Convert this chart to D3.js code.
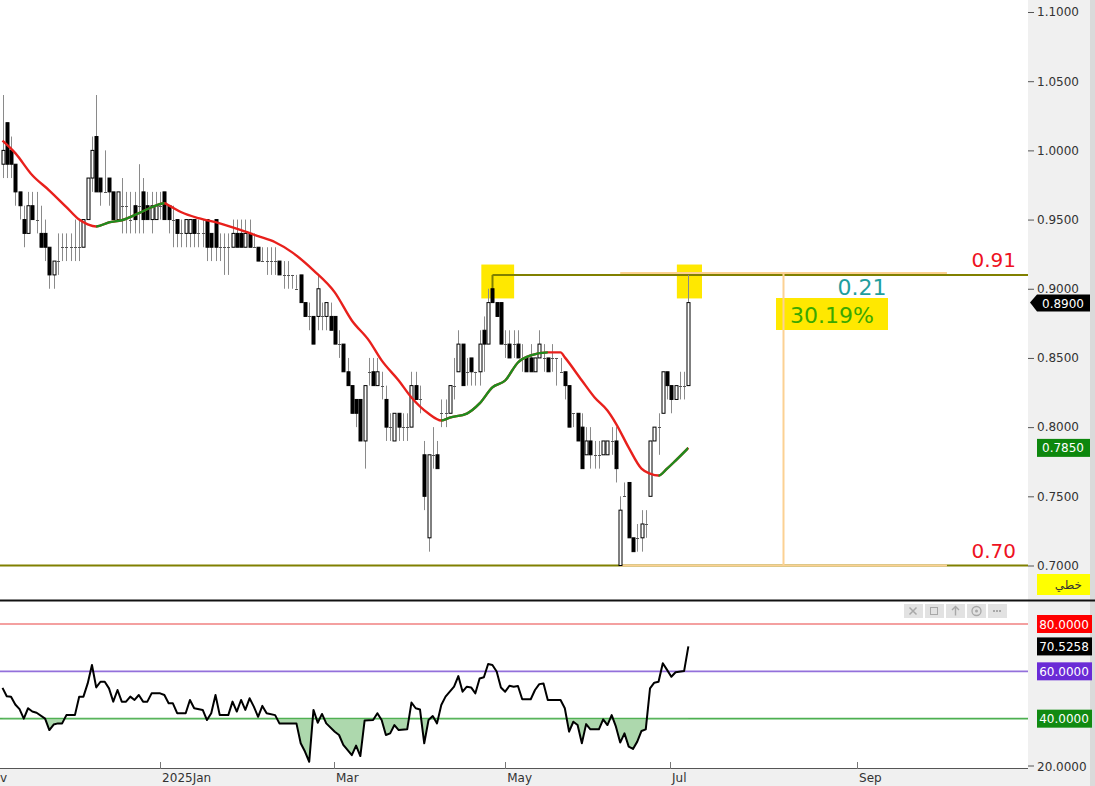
<!DOCTYPE html>
<html>
<head>
<meta charset="utf-8">
<script src="https://cdnjs.cloudflare.com/ajax/libs/d3/7.8.5/d3.min.js"></script>
<style>
  body { margin: 0; background: #fff; overflow: hidden; }
  svg { display: block; font-family: "DejaVu Sans", sans-serif; }
</style>
</head>
<body>
<div class="chart"></div>
<script>
// daily bars
const opens = [
  0.99,1.02,1.00,0.99,0.97,0.95,0.94,0.96,0.95,0.94,
  0.94,0.93,0.91,0.92,0.93,0.93,0.93,0.93,0.93,0.93,
  0.95,0.98,1.01,0.98,0.97,0.98,0.97,0.95,0.96,0.96,
  0.95,0.96,0.96,0.97,0.96,0.95,0.95,0.96,0.97,0.96,
  0.95,0.95,0.94,0.94,0.94,0.95,0.94,0.94,0.95,0.94,
  0.95,0.93,0.93,0.93,0.93,0.94,0.94,0.93,0.94,0.93,
  0.93,0.92,0.92,0.92,0.92,0.92,0.91,0.91,0.91,0.90,
  0.91,0.89,0.88,0.88,0.88,0.88,0.88,0.88,0.88,0.86,
  0.86,0.84,0.83,0.82,0.82,0.79,0.84,0.84,0.83,0.83,
  0.82,0.80,0.79,0.81,0.80,0.80,0.80,0.83,0.82,0.78,
  0.72,0.78,0.78,0.81,0.81,0.81,0.83,0.84,0.86,0.84,
  0.85,0.84,0.84,0.87,0.86,0.90,0.89,0.89,0.86,0.86,
  0.86,0.86,0.85,0.85,0.85,0.84,0.85,0.85,0.85,0.85,
  0.85,0.84,0.84,0.83,0.81,0.81,0.80,0.78,0.79,0.78,
  0.78,0.78,0.78,0.79,0.79,0.70,0.75,0.76,0.72,0.72,
  0.72,0.73,0.75,0.79,0.80,0.81,0.84,0.83,0.82,0.83,
  0.83,0.83
];
const highs = [
  1.04,1.02,1.01,0.99,0.97,0.96,0.97,0.97,0.97,0.96,
  0.95,0.93,0.92,0.94,0.94,0.94,0.94,0.95,0.95,0.95,
  0.98,1.01,1.04,0.98,1.00,0.98,0.97,0.97,0.98,0.97,
  0.97,0.97,0.99,0.98,0.97,0.97,0.97,0.97,0.97,0.96,
  0.96,0.95,0.95,0.95,0.95,0.95,0.95,0.95,0.95,0.94,
  0.95,0.94,0.94,0.94,0.95,0.95,0.95,0.95,0.95,0.94,
  0.93,0.93,0.93,0.93,0.93,0.92,0.92,0.92,0.91,0.91,
  0.91,0.89,0.89,0.88,0.91,0.89,0.89,0.89,0.88,0.87,
  0.86,0.85,0.83,0.82,0.82,0.83,0.85,0.85,0.85,0.84,
  0.83,0.81,0.81,0.81,0.81,0.81,0.84,0.84,0.83,0.79,
  0.78,0.80,0.79,0.82,0.82,0.83,0.85,0.87,0.86,0.85,
  0.85,0.84,0.87,0.88,0.90,0.90,0.89,0.89,0.87,0.87,
  0.87,0.87,0.86,0.85,0.86,0.85,0.87,0.86,0.85,0.86,
  0.85,0.85,0.84,0.83,0.81,0.81,0.81,0.80,0.80,0.79,
  0.79,0.79,0.79,0.80,0.80,0.75,0.76,0.76,0.72,0.73,
  0.74,0.74,0.79,0.80,0.81,0.84,0.84,0.83,0.83,0.84,
  0.84,0.91
];
const lows = [
  0.98,0.98,0.98,0.96,0.95,0.93,0.94,0.95,0.94,0.93,
  0.92,0.90,0.90,0.91,0.92,0.92,0.92,0.92,0.92,0.93,
  0.95,0.97,0.97,0.96,0.97,0.96,0.95,0.95,0.94,0.94,
  0.94,0.94,0.94,0.94,0.95,0.94,0.95,0.95,0.95,0.94,
  0.93,0.93,0.93,0.93,0.93,0.93,0.93,0.93,0.92,0.92,
  0.92,0.92,0.91,0.91,0.93,0.93,0.93,0.93,0.93,0.93,
  0.92,0.92,0.91,0.91,0.91,0.91,0.90,0.90,0.90,0.90,
  0.89,0.88,0.87,0.86,0.87,0.87,0.87,0.87,0.86,0.85,
  0.84,0.83,0.81,0.80,0.79,0.77,0.83,0.83,0.83,0.82,
  0.79,0.79,0.79,0.79,0.79,0.79,0.80,0.82,0.81,0.74,
  0.71,0.77,0.77,0.80,0.80,0.81,0.82,0.84,0.83,0.83,
  0.83,0.83,0.83,0.84,0.86,0.89,0.88,0.86,0.85,0.85,
  0.85,0.85,0.84,0.84,0.84,0.84,0.85,0.84,0.84,0.84,
  0.83,0.84,0.82,0.80,0.80,0.79,0.77,0.78,0.77,0.77,
  0.77,0.78,0.78,0.78,0.76,0.70,0.75,0.72,0.71,0.71,
  0.71,0.72,0.75,0.79,0.78,0.81,0.82,0.81,0.82,0.82,
  0.82,0.83
];
const closes = [
  1.00,0.99,0.99,0.97,0.96,0.94,0.96,0.95,0.95,0.93,
  0.93,0.91,0.92,0.92,0.93,0.93,0.93,0.93,0.93,0.95,
  0.98,1.00,0.97,0.97,0.97,0.97,0.95,0.97,0.96,0.96,
  0.95,0.95,0.96,0.95,0.95,0.96,0.96,0.96,0.95,0.95,
  0.95,0.94,0.94,0.95,0.95,0.94,0.94,0.94,0.93,0.93,
  0.93,0.93,0.93,0.93,0.94,0.93,0.93,0.94,0.93,0.93,
  0.92,0.92,0.92,0.92,0.92,0.91,0.91,0.91,0.91,0.90,
  0.89,0.88,0.88,0.86,0.90,0.88,0.89,0.87,0.86,0.86,
  0.84,0.83,0.81,0.81,0.79,0.83,0.84,0.83,0.84,0.83,
  0.80,0.80,0.81,0.80,0.80,0.80,0.83,0.82,0.82,0.75,
  0.78,0.78,0.77,0.81,0.81,0.83,0.83,0.86,0.83,0.84,
  0.84,0.84,0.86,0.86,0.89,0.89,0.88,0.86,0.86,0.85,
  0.86,0.85,0.85,0.84,0.84,0.85,0.86,0.85,0.84,0.85,
  0.85,0.84,0.83,0.80,0.81,0.79,0.77,0.79,0.78,0.78,
  0.78,0.79,0.79,0.79,0.77,0.74,0.75,0.72,0.71,0.72,
  0.73,0.73,0.79,0.80,0.80,0.84,0.83,0.82,0.83,0.83,
  0.83,0.89
];

// moving average, sampled along the curve (bar index, price)
const maIdx = [0,3,7,11,15,18,20,22,25,28,32,35,38,39,42,46,51,56,60,64,68,73,78,82,86,89,93,96,100,103,105,109,112,115,118,121,124,128,131,132,136,139,142,144,147,150,152,154,156,158,161];
const maVal = [1.007,0.998,0.982,0.971,0.959,0.950,0.9466,0.945,0.948,0.9495,0.9546,0.9589,0.9618,0.9603,0.9553,0.951,0.9473,0.9423,0.938,0.9336,0.9263,0.9133,0.8974,0.8771,0.8627,0.8482,0.8337,0.8214,0.8098,0.8048,0.8069,0.8098,0.8171,0.8287,0.8337,0.8467,0.8518,0.854,0.854,0.8504,0.8337,0.8214,0.812,0.8026,0.7852,0.770,0.7664,0.765,0.770,0.7758,0.785];

// RSI readings (bar index, value)
const rsiIdx = [0,1,2,3,4,5,6,7,8,10,11,12,13,14,15,17,18,19,20,21,22,23,24,25,26,27,28,29,30,31,32,33,34,35,37,38,39,40,41,43,44,45,47,48,49,50,51,53,54,55,56,57,58,59,60,61,62,64,65,69,70,71,72,73,74,75,76,78,79,80,82,83,84,85,87,88,89,90,91,92,93,95,96,97,98,99,100,101,102,103,104,106,107,108,109,110,111,112,113,114,115,116,117,118,119,120,121,122,124,125,126,127,128,131,132,133,134,135,136,137,138,140,141,142,143,144,145,146,147,148,149,150,151,152,153,154,155,156,157,158,160,161];
const rsiVal = [53,49.5,49.3,46,44,40,44.4,43,42.5,40,35.2,37.5,38,38,41.5,41.5,49.3,49.3,54.9,62.7,53.2,55.6,55.6,52.8,47.2,52.1,47.2,47.2,49.3,47.9,50,47.2,47.2,50.7,50.7,50,46.5,46.5,42.3,42.3,47.9,44.4,43.7,39.4,42.3,50,41.5,41.5,47.2,43,47.9,43.7,48.6,45.1,40.8,45.4,42.3,41.5,38,38,29.6,26.1,21.8,43.7,38.3,42,38,34.5,33.1,28.9,24.6,28.6,24.2,39.2,39.4,42.3,39.4,33.1,33.8,37.3,35.2,35.5,46.8,44.4,43.9,29.6,39.4,41.1,38,45.8,49.3,53.5,58,51.4,53.5,53.2,50.7,57,57.5,63.1,62.7,59.9,53.2,51.4,53.9,53.5,53.8,48.2,48.2,52.1,54.6,54.9,47.9,47.9,44.4,34.5,38.7,37.3,29.6,37.7,35.5,35.5,39.7,37.3,41.5,36.6,29.9,33.8,28.2,27.2,30.3,34.8,35.5,52.8,55.2,55.6,63.4,60.6,57.7,59.6,60.1,70.5258];

// axis ticks
const priceTicks = [0.70,0.75,0.80,0.85,0.90,0.95,1.00,1.05,1.10];
const monthLabels = ["Nov","2025Jan","Mar","May","Jul","Sep"];
const monthIdx = [-4.9,37,77.8,118,156.7,200.6];
const rsiLevels = [80,60,40];
const rsiLevelColors = ["#f08080","#9370db","#4caf50"];
const rsiBoxColors = ["#ff0000","#6a2bd6","#118a11"];

// drawing tool values
const levelHigh = 0.91, levelLow = 0.70;
const lastPrice = 0.89, lastMa = 0.785, lastRsi = 70.5258;

// layout
const W = 1095, H = 786, plotR = 1028;
const svg = d3.select("div.chart").append("svg").attr("width", W).attr("height", H);

const x = d3.scaleLinear().domain([0, 161]).range([2.5, 2.5 + 4.26 * 161]);
const y = d3.scaleLinear().domain([0.70, 1.10]).range([565.5, 12]);
const yR = d3.scaleLinear().domain([20, 80]).range([766, 624]);
const px = v => Math.round(v) + 0.5;

svg.append("rect").attr("width", W).attr("height", H).attr("fill", "#fff");

// right axis panel and bottom time strip
svg.append("rect").attr("x", plotR).attr("y", 0).attr("width", W - plotR).attr("height", H).attr("fill", "#f0f0f0");
svg.append("rect").attr("x", 0).attr("y", 769).attr("width", W).attr("height", H - 769).attr("fill", "#f0f0f0");
svg.append("rect").attr("x", 1090).attr("y", 0).attr("width", 5).attr("height", H).attr("fill", "#dadada");

const main = svg.append("g");

// yellow highlights (under the bars)
const marks = [[112.4, 120.1], [158.3, 164.2]];
main.selectAll("rect.hl").data(marks).join("rect")
  .attr("class", "hl")
  .attr("x", d => x(d[0])).attr("width", d => x(d[1]) - x(d[0]))
  .attr("y", y(0.9175)).attr("height", y(0.893) - y(0.9175))
  .attr("fill", "#ffe800");

// level lines
const olive = "#808000", peach = "#fcd193";
main.append("line").attr("x1", 0).attr("x2", plotR).attr("y1", y(levelLow)).attr("y2", y(levelLow))
  .attr("stroke", olive).attr("stroke-width", 2);
main.append("line").attr("x1", px(x(115))).attr("x2", plotR).attr("y1", y(levelHigh)).attr("y2", y(levelHigh))
  .attr("stroke", olive).attr("stroke-width", 2);
main.append("line").attr("x1", px(x(115))).attr("x2", px(x(115))).attr("y1", y(levelHigh)).attr("y2", y(0.90))
  .attr("stroke", olive).attr("stroke-width", 2);

// measuring tool
const mx0 = x(145), mxMid = x(183.2), mx1 = x(221.7);
main.append("line").attr("x1", mx0).attr("x2", mx1).attr("y1", y(levelHigh) - 2).attr("y2", y(levelHigh) - 2)
  .attr("stroke", peach).attr("stroke-width", 2);
main.append("line").attr("x1", mx0).attr("x2", mx1).attr("y1", y(levelLow)).attr("y2", y(levelLow))
  .attr("stroke", peach).attr("stroke-width", 2);

// percent box
main.append("rect").attr("x", 776).attr("y", 298).attr("width", 112).attr("height", 32).attr("fill", "#ffe800");
main.append("line").attr("x1", px(mxMid)).attr("x2", px(mxMid)).attr("y1", y(levelHigh) - 2).attr("y2", y(levelLow))
  .attr("stroke", peach).attr("stroke-width", 2);
main.append("text").attr("x", 832).attr("y", 323).attr("text-anchor", "middle")
  .attr("font-size", 22).attr("fill", "#3aa800").text("30.19%");
main.append("text").attr("x", 862).attr("y", 295).attr("text-anchor", "middle")
  .attr("font-size", 22).attr("fill", "#1f9e9e").text(d3.format(".2f")(levelHigh - levelLow));

// level texts
[levelHigh, levelLow].forEach(v => {
  main.append("text").attr("x", 1016).attr("y", y(v) - 8).attr("text-anchor", "end")
    .attr("font-size", 20).attr("fill", "#ee1122").text(d3.format(".2f")(v));
});

// candles
const bars = d3.range(opens.length).map(i => ({ i, o: opens[i], h: highs[i], l: lows[i], c: closes[i] }));
main.selectAll("line.wick").data(bars).join("line")
  .attr("class", "wick")
  .attr("x1", d => px(x(d.i))).attr("x2", d => px(x(d.i)))
  .attr("y1", d => y(d.h)).attr("y2", d => y(d.l))
  .attr("stroke", "#8a8a8a").attr("stroke-width", 1);

main.selectAll("rect.body").data(bars.filter(d => d.o !== d.c)).join("rect")
  .attr("class", "body")
  .attr("x", d => Math.round(x(d.i)) - 1)
  .attr("width", 3)
  .attr("y", d => y(Math.max(d.o, d.c)))
  .attr("height", d => Math.abs(y(d.o) - y(d.c)))
  .attr("fill", d => d.c > d.o ? "#fff" : "#000")
  .attr("stroke", "#000").attr("stroke-width", 1);

main.selectAll("line.doji").data(bars.filter(d => d.o === d.c)).join("line")
  .attr("class", "doji")
  .attr("x1", d => Math.round(x(d.i)) - 1).attr("x2", d => Math.round(x(d.i)) + 2)
  .attr("y1", d => px(y(d.c))).attr("y2", d => px(y(d.c)))
  .attr("stroke", "#555").attr("stroke-width", 1);

// moving average: red while falling, green while rising
const maPts = maIdx.map((d, k) => [x(d), y(maVal[k])]);
const maLine = d3.line().curve(d3.curveMonotoneX);
const defs = svg.append("defs");
const clipUp = defs.append("clipPath").attr("id", "ma-up");
maIdx.forEach((d, k) => {
  if (k > 0 && maVal[k] > maVal[k - 1]) {
    clipUp.append("rect").attr("x", x(maIdx[k - 1])).attr("width", x(d) - x(maIdx[k - 1]))
      .attr("y", 0).attr("height", 600);
  }
});
main.append("path").attr("d", maLine(maPts)).attr("fill", "none").attr("stroke", "#e8201c").attr("stroke-width", 2.4);
main.append("path").attr("d", maLine(maPts)).attr("fill", "none").attr("stroke", "#1e8c1e").attr("stroke-width", 2.4)
  .attr("clip-path", "url(#ma-up)");

// price axis
const yAxis = svg.append("g").attr("transform", `translate(${plotR},0)`)
  .call(d3.axisRight(y).tickValues(priceTicks).tickFormat(d3.format(".4f")).tickSize(6).tickPadding(3));
yAxis.select(".domain").remove();
yAxis.selectAll("line").attr("stroke", "#555");
yAxis.selectAll("text").attr("font-size", 12).attr("fill", "#333").attr("font-family", "DejaVu Sans");

// price tags
const tagY = y(lastPrice);
svg.append("path").attr("d", `M1030,${tagY} L1037,${tagY - 8} L1090,${tagY - 8} L1090,${tagY + 9} L1037,${tagY + 9} Z`).attr("fill", "#000");
svg.append("text").attr("x", 1063).attr("y", tagY + 5).attr("text-anchor", "middle").attr("font-size", 12)
  .attr("fill", "#fff").text(d3.format(".4f")(lastPrice));
const maY = y(lastMa);
svg.append("rect").attr("x", 1037).attr("y", maY - 9).attr("width", 53).attr("height", 18).attr("fill", "#0d870d");
svg.append("text").attr("x", 1063).attr("y", maY + 4.5).attr("text-anchor", "middle").attr("font-size", 12)
  .attr("fill", "#fff").text(d3.format(".4f")(lastMa));
svg.append("rect").attr("x", 1037).attr("y", 574).attr("width", 53).attr("height", 21).attr("fill", "#ffff00");
svg.append("text").attr("x", 1082).attr("y", 589).attr("text-anchor", "end").attr("font-size", 12)
  .attr("fill", "#333").text("خطي");

// pane divider
svg.append("line").attr("x1", 0).attr("x2", W).attr("y1", 600.5).attr("y2", 600.5).attr("stroke", "#111").attr("stroke-width", 2);

// RSI pane
const rsiG = svg.append("g");
rsiLevels.forEach((v, k) => {
  rsiG.append("line").attr("x1", 0).attr("x2", plotR).attr("y1", yR(v)).attr("y2", yR(v))
    .attr("stroke", rsiLevelColors[k]).attr("stroke-width", 1.6);
});
const rsiPts = rsiIdx.map((d, k) => ({ i: d, v: rsiVal[k] }));
defs.append("clipPath").attr("id", "below40").append("rect")
  .attr("x", 0).attr("y", yR(40)).attr("width", plotR).attr("height", 766 - yR(40));
rsiG.append("path")
  .attr("d", d3.area().x(d => x(d.i)).y0(yR(40)).y1(d => yR(d.v))(rsiPts))
  .attr("fill", "#9fd19f").attr("opacity", 0.85).attr("clip-path", "url(#below40)");
rsiG.append("path")
  .attr("d", d3.line().x(d => x(d.i)).y(d => yR(d.v))(rsiPts))
  .attr("fill", "none").attr("stroke", "#000").attr("stroke-width", 2).attr("stroke-linejoin", "round");

// RSI tags
rsiLevels.forEach((v, k) => {
  svg.append("rect").attr("x", 1037).attr("y", yR(v) - 9).attr("width", 55).attr("height", 18).attr("fill", rsiBoxColors[k]);
  svg.append("text").attr("x", 1064).attr("y", yR(v) + 4.5).attr("text-anchor", "middle").attr("font-size", 12)
    .attr("fill", "#fff").text(d3.format(".4f")(v));
});
svg.append("rect").attr("x", 1037).attr("y", yR(lastRsi) - 9).attr("width", 55).attr("height", 18).attr("fill", "#000");
svg.append("text").attr("x", 1064).attr("y", yR(lastRsi) + 4.5).attr("text-anchor", "middle").attr("font-size", 12)
  .attr("fill", "#fff").text(d3.format(".4f")(lastRsi));
svg.append("line").attr("x1", plotR).attr("x2", plotR + 6).attr("y1", yR(20)).attr("y2", yR(20)).attr("stroke", "#555");
svg.append("text").attr("x", plotR + 9).attr("y", yR(20) + 4.5).attr("font-size", 12).attr("fill", "#333").text(d3.format(".4f")(20));

// pane toolbar
const tb = svg.append("g").attr("transform", "translate(904,604)");
d3.range(5).forEach(k => {
  tb.append("rect").attr("x", k * 21).attr("y", 0).attr("width", 19).attr("height", 14).attr("fill", "#e2e2e2");
});
const ic = "#a8a8a8";
tb.append("path").attr("d", "M5.5,3.5 L12.5,10.5 M12.5,3.5 L5.5,10.5").attr("stroke", ic).attr("stroke-width", 1.5);
tb.append("rect").attr("x", 26.5).attr("y", 3.5).attr("width", 7).attr("height", 7).attr("fill", "none").attr("stroke", ic);
tb.append("path").attr("d", "M51.5,2.5 L51.5,11.5 M48,6 L51.5,2.5 L55,6").attr("stroke", ic).attr("fill", "none").attr("stroke-width", 1.4);
tb.append("circle").attr("cx", 72.5).attr("cy", 7).attr("r", 4.5).attr("fill", "none").attr("stroke", ic).attr("stroke-width", 1.3);
tb.append("circle").attr("cx", 72.5).attr("cy", 7).attr("r", 1.5).attr("fill", ic);
[89, 92, 95].forEach(cx => tb.append("rect").attr("x", cx).attr("y", 6).attr("width", 2).attr("height", 2).attr("fill", ic));

// time axis
svg.append("line").attr("x1", 0).attr("x2", plotR).attr("y1", 768.5).attr("y2", 768.5).attr("stroke", "#555");
const xTicks = monthIdx.map((d, k) => ({ x: x(d), label: monthLabels[k] }));
svg.selectAll("line.mtick").data(xTicks).join("line")
  .attr("class", "mtick")
  .attr("x1", d => px(d.x)).attr("x2", d => px(d.x)).attr("y1", 762).attr("y2", 769)
  .attr("stroke", "#777");
svg.selectAll("text.mlabel").data(xTicks).join("text")
  .attr("class", "mlabel")
  .attr("x", d => d.x + 2).attr("y", 782).attr("font-size", 12).attr("fill", "#333")
  .text(d => d.label);
</script>
</body>
</html>
